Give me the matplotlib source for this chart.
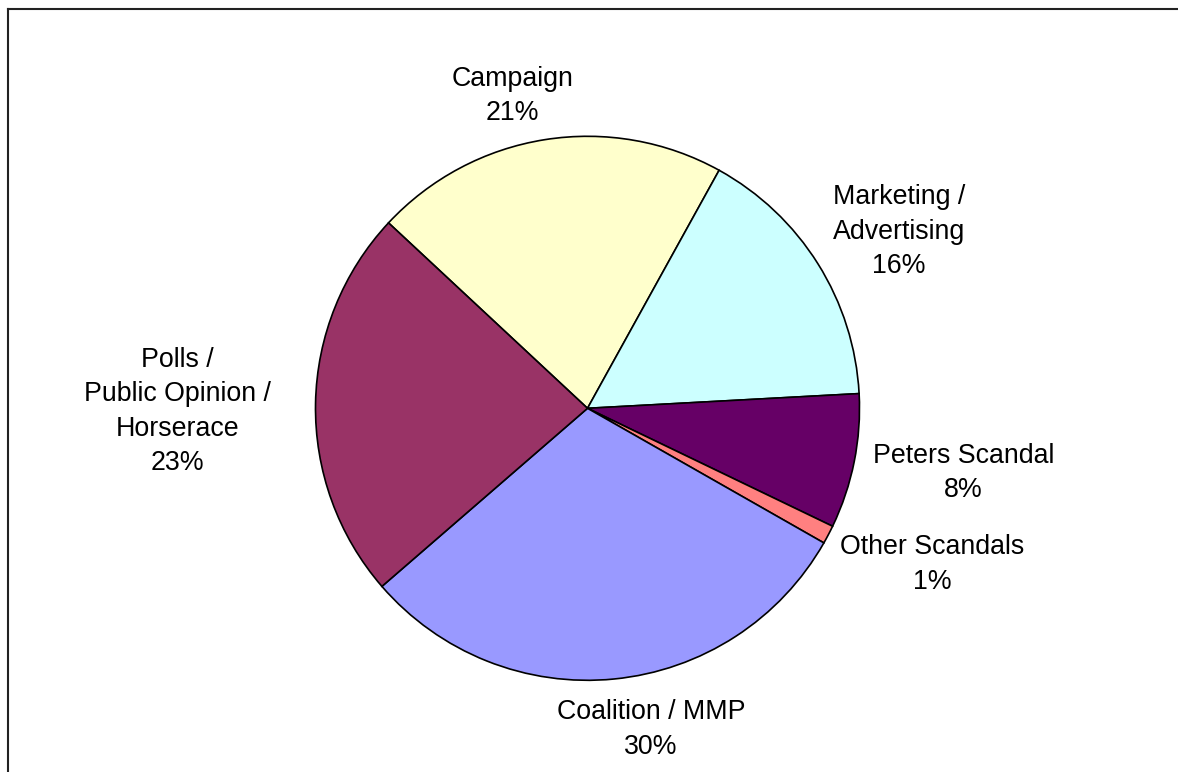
import matplotlib
matplotlib.use("Agg")
import matplotlib.pyplot as plt
from matplotlib.lines import Line2D

# ── data ──────────────────────────────────────────────────────────────────────
categories = ["Campaign", "Marketing /\nAdvertising", "Peters Scandal",
              "Other Scandals", "Coalition / MMP",
              "Polls /\nPublic Opinion /\nHorserace"]
shares = [21.1, 16.1, 8.0, 1.1, 30.4, 23.3]
colors = ["#FFFFCC", "#CCFFFF", "#660066", "#FF8080", "#9999FF", "#993366"]

# label anchors (first-line baseline) in pie-radius units
label_pos = [(-0.276, 1.185), (1.145, 0.750), (1.382, -0.200),
             (1.268, -0.537), (0.233, -1.143), (-1.507, 0.152)]
LINE_STEP = 0.1268

# ── figure ────────────────────────────────────────────────────────────────────
W, H = 1178, 772
R = 272
CX, CY = 587.5, 408.3
fig = plt.figure(figsize=(W / 100, H / 100), dpi=100)
fig.patch.set_facecolor("white")
ax = fig.add_axes([(CX - R) / W, (H - CY - R) / H, 2 * R / W, 2 * R / H])

ax.pie(shares, colors=colors, startangle=137.02, counterclock=False,
       radius=1.0, wedgeprops=dict(edgecolor="black", linewidth=1.2))
ax.set_xlim(-1, 1)
ax.set_ylim(-1, 1)
ax.axis("off")

total = sum(shares)
for name, val, (x, y) in zip(categories, shares, label_pos):
    lines = name.split("\n") + [f"{round(100 * val / total):d}%"]
    for j, line in enumerate(lines):
        ax.text(x, y - j * LINE_STEP, line, ha="center", va="baseline",
                fontsize=19.3, family="Liberation Sans", color="black",
                clip_on=False)

# chart-area border (top and left edges visible)
fig.add_artist(Line2D([7.5 / W, 7.5 / W], [0, 1 - 8.5 / H],
                      transform=fig.transFigure, color="#222222", lw=1.5))
fig.add_artist(Line2D([7.5 / W, 1], [1 - 8.5 / H, 1 - 8.5 / H],
                      transform=fig.transFigure, color="#222222", lw=1.5))

fig.savefig("out.png", dpi=100)
